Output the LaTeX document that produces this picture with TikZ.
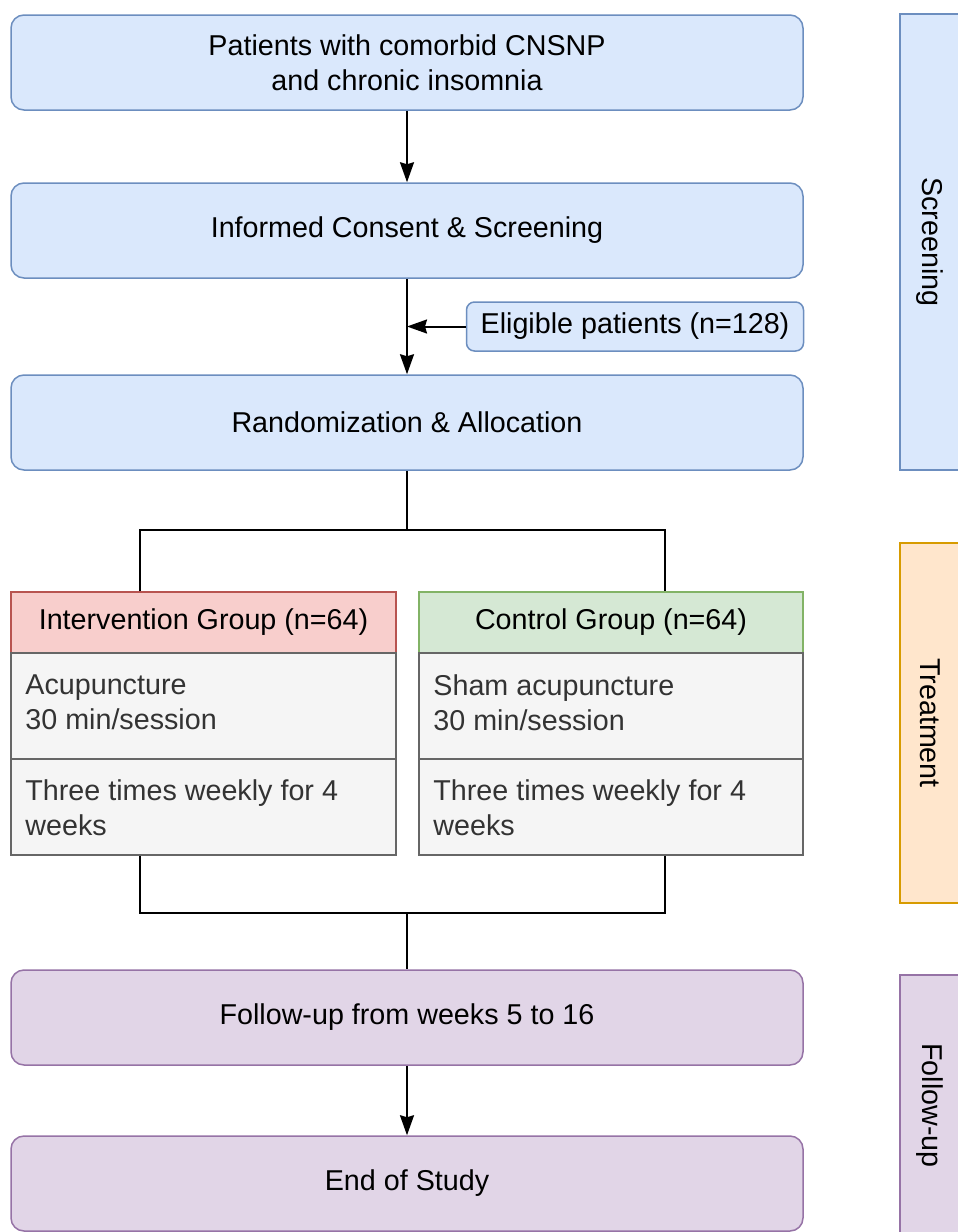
\documentclass[tikz,border=0pt]{standalone}
\usepackage{fontspec}
\setmainfont{Liberation Sans}
\usetikzlibrary{arrows.meta}
\definecolor{blueF}{HTML}{DAE8FC}
\definecolor{blueD}{HTML}{6C8EBF}
\definecolor{redF}{HTML}{F8CECC}
\definecolor{redD}{HTML}{B85450}
\definecolor{greenF}{HTML}{D5E8D4}
\definecolor{greenD}{HTML}{82B366}
\definecolor{grayF}{HTML}{F5F5F5}
\definecolor{grayD}{HTML}{666666}
\definecolor{txtG}{HTML}{333333}
\definecolor{orangeF}{HTML}{FFE6CC}
\definecolor{orangeD}{HTML}{D79B00}
\definecolor{purpleF}{HTML}{E1D5E7}
\definecolor{purpleD}{HTML}{9673A6}
\begin{document}
\begin{tikzpicture}[x=0.5pt,y=-0.5pt,
  font=\fontsize{14.35}{17.5}\selectfont,
  box/.style={line width=0.75pt, rounded corners=6.5pt, minimum width=396pt, minimum height=47.5pt, align=center, inner sep=0pt},
  bluebox/.style={box, draw=blueD, fill=blueF},
  purplebox/.style={box, draw=purpleD, fill=purpleF},
  hdr/.style={line width=0.75pt, minimum height=30.5pt, inner sep=0pt},
  cell/.style={line width=0.75pt, draw=grayD, fill=grayF, inner sep=0pt},
  celltext/.style={anchor=north west, align=left, inner sep=0pt, text=txtG},
  bar/.style={rotate=-90, line width=0.75pt, minimum height=30pt, inner sep=0pt},
  conn/.style={line width=1pt, draw=black},
  arr/.style={conn, -{Stealth[length=10pt,width=7pt,inset=1pt]}}
]
\clip (0,0) rectangle (958,1232);
\fill[white] (0,0) rectangle (958,1232);

% main flow boxes
\node[bluebox] (b1) at (407,62.5) {Patients with comorbid CNSNP\\and chronic insomnia};
\node[bluebox] (b2) at (407,230.5) {Informed Consent \& Screening};
\node[bluebox] (b3) at (407,422.5) {Randomization \& Allocation};
\node[bluebox, rounded corners=4pt, minimum width=168.5pt, minimum height=24.5pt] (el) at (635,326.5) {Eligible patients (n=128)};

% groups
\node[hdr, draw=redD, fill=redF, minimum width=192.5pt] (ih) at (203.5,622.5) {Intervention Group (n=64)};
\node[cell, minimum width=192.5pt, minimum height=53pt] (i1) at (203.5,706) {};
\node[cell, minimum width=192.5pt, minimum height=48pt] (i2) at (203.5,807) {};
\node[celltext] (i1t) at (25,674) {Acupuncture\\30 min/session};
\node[celltext] (i2t) at (25,779) {Three times weekly for 4\\weeks};

\node[hdr, draw=greenD, fill=greenF, minimum width=192pt] (ch) at (611,622.5) {Control Group (n=64)};
\node[cell, minimum width=192pt, minimum height=53pt] (c1) at (611,706) {};
\node[cell, minimum width=192pt, minimum height=48pt] (c2) at (611,807) {};
\node[celltext] (c1t) at (433,674) {Sham acupuncture\\30 min/session};
\node[celltext] (c2t) at (433,779) {Three times weekly for 4\\weeks};

\node[purplebox] (b4) at (407,1017.5) {Follow-up from weeks 5 to 16};
\node[purplebox] (b5) at (407,1183.5) {End of Study};

% side bars
\node[bar, draw=blueD, fill=blueF, minimum width=228pt] (s1) at (930,242) {Screening};
\node[bar, draw=orangeD, fill=orangeF, minimum width=180pt] (s2) at (930,723) {Treatment};
\node[bar, draw=purpleD, fill=purpleF, minimum width=130.5pt] (s3) at (930,1105.5) {Follow-up};

% connectors
\coordinate (x1) at (140,0);
\coordinate (x2) at (665,0);
\coordinate (j1) at (407,530);
\coordinate (j2) at (407,913);
\coordinate (m) at (b2.south |- el.west);

\draw[arr] (b1.south) -- (b2.north);
\draw[arr] (b2.south) -- (b3.north);
\draw[arr] (el.west) -- (m);
\draw[conn] (b3.south) -- (j1);
\draw[conn] (ih.north -| x1) |- (j1) -| (ch.north -| x2);
\draw[conn] (i2.south -| x1) |- (j2) -| (c2.south -| x2);
\draw[conn] (j2) -- (b4.north);
\draw[arr] (b4.south) -- (b5.north);
\end{tikzpicture}
\end{document}
